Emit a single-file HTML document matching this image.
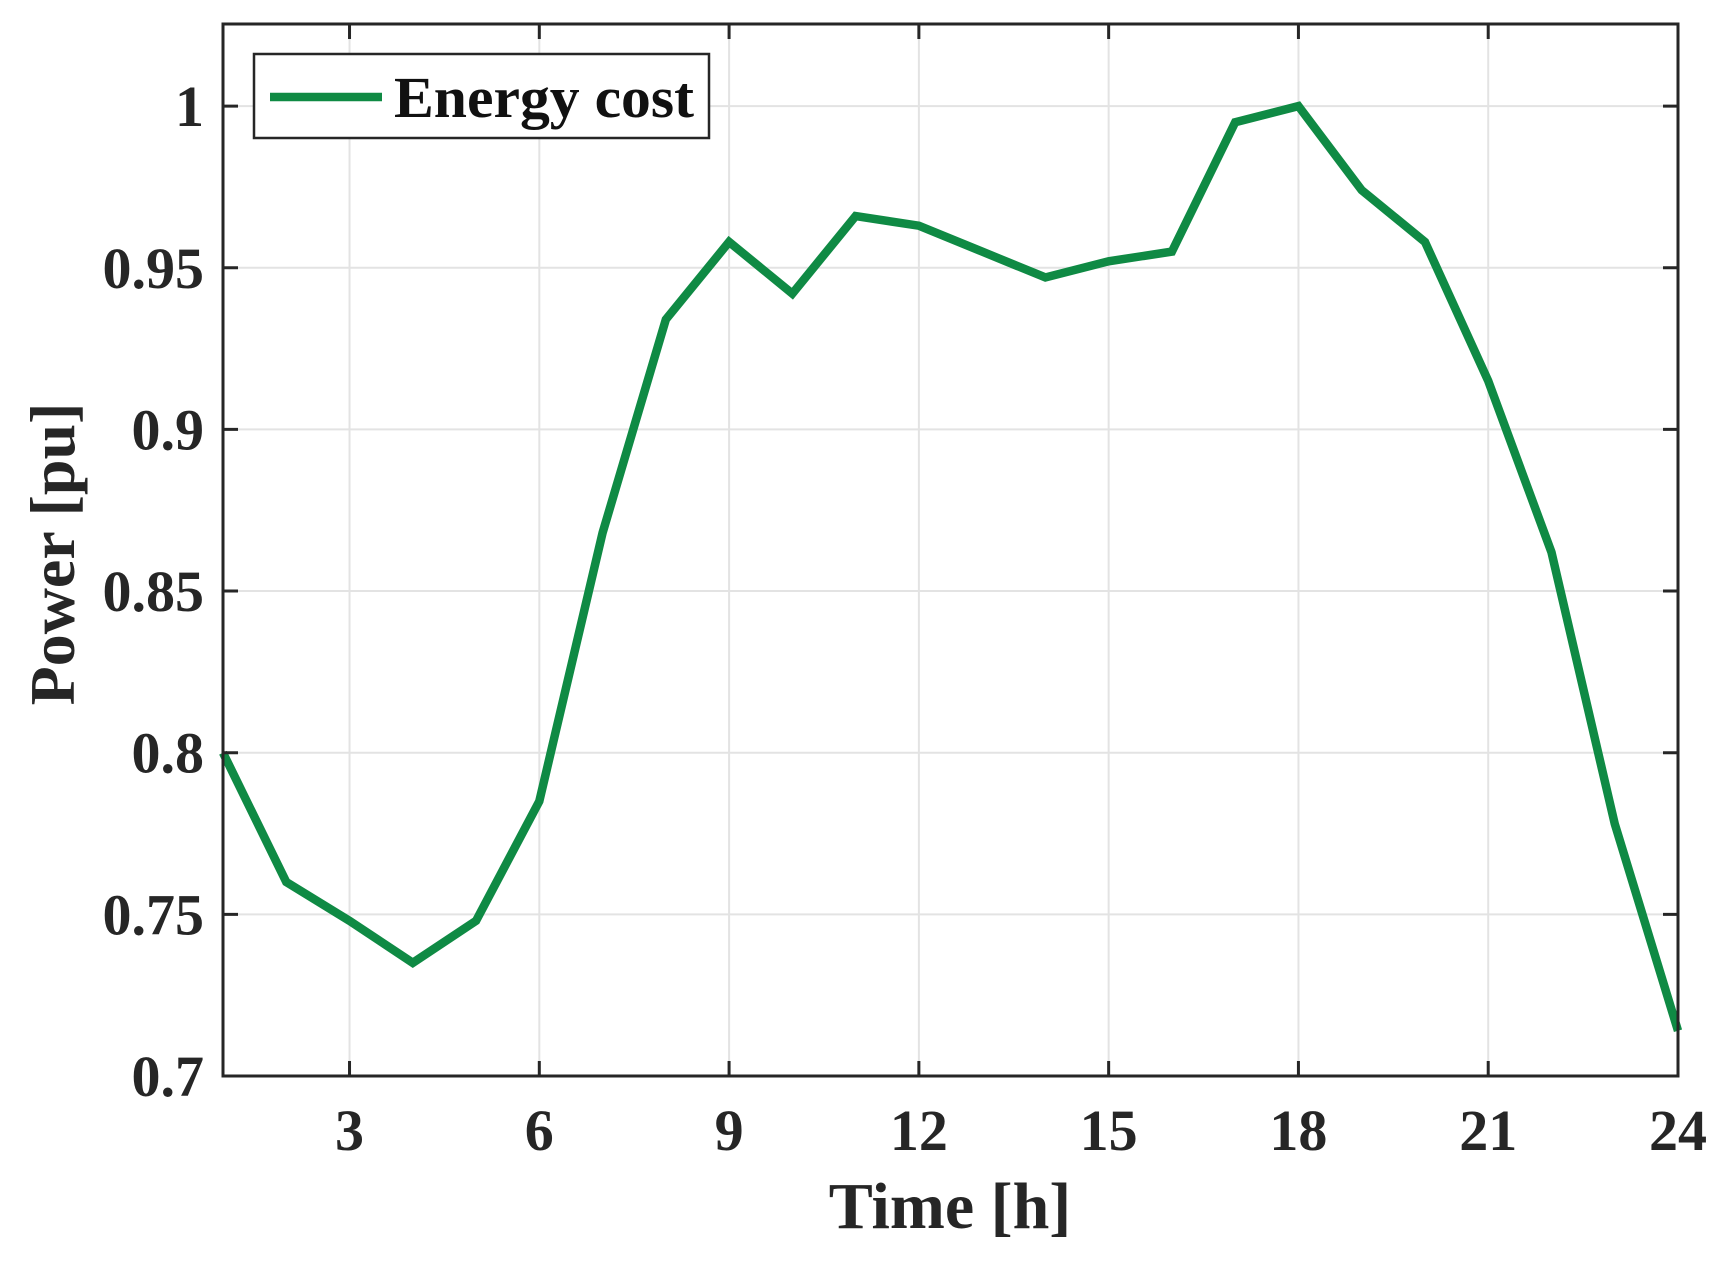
<!DOCTYPE html>
<html><head><meta charset="utf-8"><style>
html,body{margin:0;padding:0;background:#fff;}
svg{display:block;font-family:"Liberation Serif",serif;font-weight:bold;}
</style></head><body>
<svg id="chart" width="1735" height="1262" viewBox="0 0 1735 1262" xmlns="http://www.w3.org/2000/svg">
<rect width="1735" height="1262" fill="#fff"/>
<g id="grid"></g>
<g id="series"></g>
<g id="axes"></g>
<g id="legend"></g>
</svg>
<script>
const hours = [1,2,3,4,5,6,7,8,9,10,11,12,13,14,15,16,17,18,19,20,21,22,23,24];
const energyCost = [0.800,0.760,0.748,0.735,0.748,0.785,0.868,0.934,0.958,0.942,0.966,0.963,0.955,0.947,0.952,0.955,0.995,1.000,0.974,0.958,0.915,0.862,0.778,0.714];
const xTicks = [3,6,9,12,15,18,21,24];
const yTicks = [0.7,0.75,0.8,0.85,0.9,0.95,1];
const yTickLabels = ["0.7","0.75","0.8","0.85","0.9","0.95","1"];

const L=223,R=1678,T=24,B=1076,XMIN=1,XMAX=24,YMIN=0.7,YMAX=1.0254;
const NS="http://www.w3.org/2000/svg";
function sx(v){return L+(v-XMIN)/(XMAX-XMIN)*(R-L);}
function sy(v){return B-(v-YMIN)/(YMAX-YMIN)*(B-T);}
function mk(tag,attrs,parent,text){const e=document.createElementNS(NS,tag);for(const k in attrs)e.setAttribute(k,attrs[k]);if(text!==undefined)e.textContent=text;parent.appendChild(e);return e;}
const grid=document.getElementById('grid'),axes=document.getElementById('axes'),series=document.getElementById('series'),legend=document.getElementById('legend');

xTicks.forEach(t=>{
  const g=mk('line',{x1:sx(t),x2:sx(t),y1:T,y2:B,stroke:'#e3e3e3','stroke-width':2},grid);
  
  
  const tk=mk('path',{d:`M${sx(t)},${B}v-15M${sx(t)},${T}v15`,stroke:'#262626','stroke-width':3},axes);
  
  
  const lb=mk('text',{x:sx(t),y:1150,'text-anchor':'middle','font-size':58,fill:'#262626'},axes,String(t));
  
  
});
yTicks.forEach((t,i)=>{
  const g=mk('line',{x1:L,x2:R,y1:sy(t),y2:sy(t),stroke:'#e3e3e3','stroke-width':2},grid);
  
  
  const tk=mk('path',{d:`M${L},${sy(t)}h15M${R},${sy(t)}h-15`,stroke:'#262626','stroke-width':3},axes);
  
  
  const lb=mk('text',{x:204,y:sy(t)+20,'text-anchor':'end','font-size':58,fill:'#262626'},axes,yTickLabels[i]);
  
  
});
const box=mk('rect',{x:L,y:T,width:R-L,height:B-T,fill:'none',stroke:'#262626','stroke-width':3},axes);


const xl=mk('text',{x:950,y:1228,'text-anchor':'middle','font-size':66,fill:'#262626'},axes,'Time [h]');


const yl=mk('text',{x:0,y:0,'text-anchor':'middle','font-size':64,fill:'#262626',transform:'translate(74,554) rotate(-90)'},axes,'Power [pu]');



const pts=hours.map((h,i)=>sx(h)+','+sy(energyCost[i])).join(' ');
const line=mk('polyline',{points:pts,fill:'none',stroke:'#0f8a44','stroke-width':8.5,'stroke-linejoin':'miter'},series);



const lbox=mk('rect',{x:254,y:54,width:455,height:84,fill:'#fff',stroke:'#262626','stroke-width':2.5},legend);


const ll=mk('line',{x1:270,x2:382,y1:97,y2:97,stroke:'#0f8a44','stroke-width':8.5},legend);


const lt=mk('text',{x:394,y:117,'font-size':58,fill:'#111',textLength:300,lengthAdjust:'spacingAndGlyphs'},legend,'Energy cost');


</script>
</body></html>
